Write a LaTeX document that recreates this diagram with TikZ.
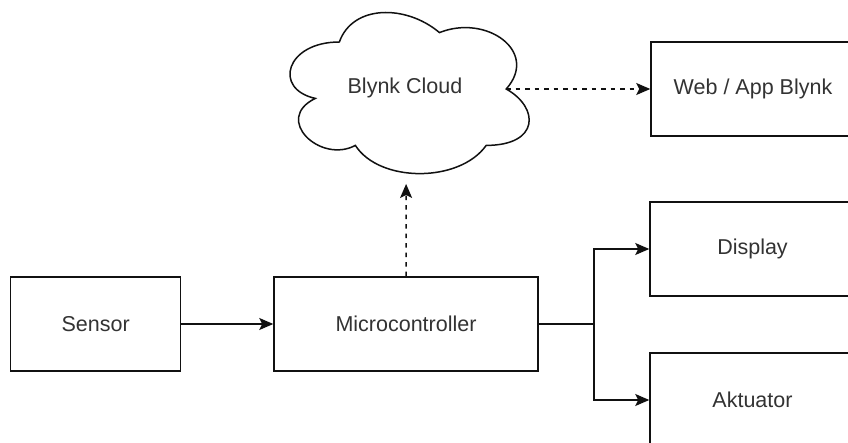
\documentclass[tikz,border=0pt]{standalone}
\usepackage{fontspec}
\setmainfont{Liberation Sans}
\usetikzlibrary{arrows.meta}
\definecolor{txt}{HTML}{333333}
\definecolor{ln}{HTML}{111111}
\tikzset{
  box/.style={draw=ln, line width=1.5pt, fill=white, inner sep=0pt, text=txt,
    font=\fontsize{21.5}{26}\selectfont},
  conn/.style={draw=ln, line width=1.5pt, -{Stealth[length=14pt,width=12pt,inset=3pt]}},
  dconn/.style={conn, dash pattern=on 4.5pt off 5pt},
}
\begin{document}
\begin{tikzpicture}[x=1pt,y=-1pt]
\useasboundingbox (0,0) rectangle (848,443);
\clip (0,0) rectangle (848,443);
\fill[white] (0,0) rectangle (848,443);
% cloud
\begin{scope}[shift={(272.6,-5)}, x=267pt, y=-188pt]
  \draw[draw=ln, line width=1.5pt, fill=white]
    (0.25,0.25) .. controls (0.05,0.25) and (0,0.5) .. (0.16,0.55)
    .. controls (0,0.66) and (0.18,0.9) .. (0.31,0.8)
    .. controls (0.4,1) and (0.7,1) .. (0.8,0.8)
    .. controls (1,0.8) and (1,0.6) .. (0.875,0.5)
    .. controls (1,0.3) and (0.8,0.1) .. (0.625,0.2)
    .. controls (0.5,0.05) and (0.3,0.05) .. (0.25,0.25) -- cycle;
  \coordinate (cloudR) at (0.875,0.5);
  \coordinate (cloudB) at (0.5,1.005);
\end{scope}
\node[text=txt, font=\fontsize{21.5}{26}\selectfont] (cloud) at (405,88) {Blynk Cloud};
% boxes
\node[box, minimum width=170pt, minimum height=94pt] (sensor) at (95.7,324) {Sensor};
\node[box, minimum width=264pt, minimum height=94pt] (mc) at (406,324) {Microcontroller};
\node[box, minimum width=204pt, minimum height=94pt] (web) at (753,89) {Web / App Blynk};
\node[box, minimum width=205pt, minimum height=94pt] (disp) at (752.5,249) {Display};
\node[box, minimum width=205pt, minimum height=94pt] (akt) at (752.5,400) {Aktuator};
% connectors
\coordinate (br) at (594,324);
\draw[conn] (sensor.east) -- (mc.west);
\draw[dconn] (mc.north) -- (cloudB);
\draw[dconn] (cloudR) -- (web.west);
\draw[conn] (mc.east) -- (br) |- (disp.west);
\draw[conn] (br) |- (akt.west);
\end{tikzpicture}
\end{document}
